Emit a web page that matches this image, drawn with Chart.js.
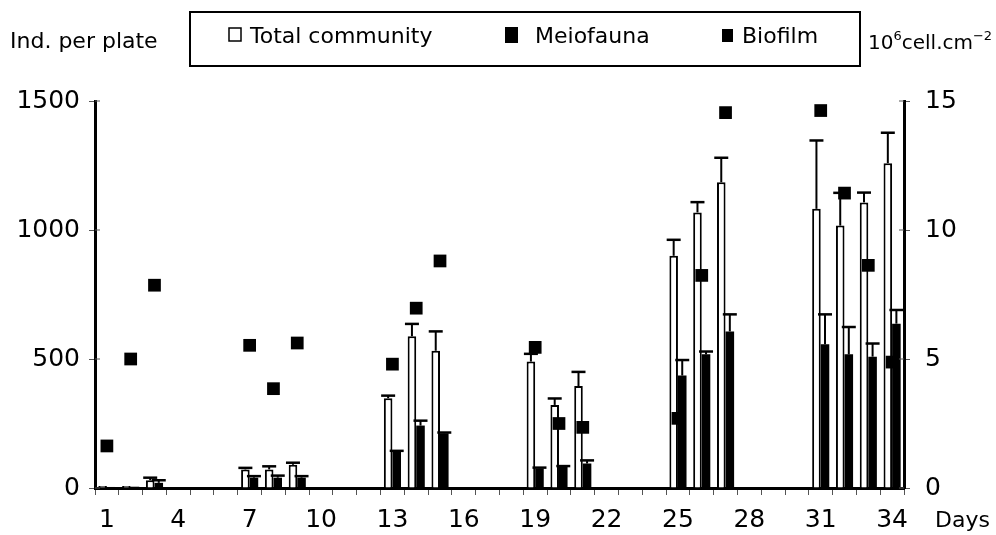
<!DOCTYPE html>
<html>
<head>
<meta charset="utf-8">
<script src="https://cdn.jsdelivr.net/npm/chart.js@4/dist/chart.umd.min.js"></script>
<style>
html,body{margin:0;padding:0;background:#fff;}
#wrap{width:996px;height:535px;}
</style>
</head>
<body>
<div id="wrap"><canvas id="c" width="996" height="535"></canvas></div>
<script>
// ---- data ----
const days = [1,2,3,4,5,6,7,8,9,10,11,12,13,14,15,16,17,18,19,20,21,22,23,24,25,26,27,28,29,30,31,32,33,34];
const xTickLabels = [1,4,7,10,13,16,19,22,25,28,31,34];
const totalCommunity = [8,8,30,null,null,null,72,72,90,null,null,null,348,588,532,null,null,null,490,322,395,null,null,null,900,1068,1185,null,null,null,1082,1017,1107,1259];
const totalErr = [0,0,10,null,null,null,6,12,8,null,null,null,10,48,75,null,null,null,30,25,55,null,null,null,62,40,95,null,null,null,265,127,38,118];
const meiofauna = [4,5,20,null,null,null,40,40,40,null,null,null,141,242,212,null,null,null,76,82,95,null,null,null,436,518,607,null,null,null,557,518,509,637];
const meioErr = [0,0,10,null,null,null,6,8,6,null,null,null,3,19,3,null,null,null,3,3,12,null,null,null,60,11,66,null,null,null,116,106,51,53];
const biofilm = [1.63,5.0,7.86,null,null,null,5.53,3.85,5.62,null,null,null,4.8,6.97,8.8,null,null,null,5.45,2.5,2.35,null,null,null,2.7,8.24,14.55,null,null,null,14.63,11.43,8.63,4.88];
const leftTicks = [0,500,1000,1500];
const rightTicks = [0,5,10,15];

const FONT = '"DejaVu Sans", sans-serif';

const errorBars = {
  id: 'errorBars',
  beforeDatasetDraw(chart, args) {
    if (args.index !== 2) return;
    const ctx = chart.ctx;
    const ys = chart.scales.y;
    const sets = [[0, totalCommunity, totalErr], [1, meiofauna, meioErr]];
    ctx.save();
    ctx.strokeStyle = '#000';
    sets.forEach(([di, vals, errs]) => {
      const meta = chart.getDatasetMeta(di);
      vals.forEach((v, i) => {
        if (v == null || !errs[i]) return;
        const x = meta.data[i].x;
        const y0 = ys.getPixelForValue(v);
        const y1 = ys.getPixelForValue(v + errs[i]);
        ctx.lineWidth = 2;
        ctx.beginPath(); ctx.moveTo(x, y0); ctx.lineTo(x, y1); ctx.stroke();
        ctx.lineWidth = 2.5;
        ctx.beginPath(); ctx.moveTo(x - 7, y1); ctx.lineTo(x + 7, y1); ctx.stroke();
      });
    });
    ctx.restore();
  }
};

const decor = {
  id: 'decor',
  afterDraw(chart) {
    const ctx = chart.ctx;
    const a = chart.chartArea;
    ctx.save();
    // inner tick halves
    ctx.strokeStyle = '#555'; ctx.lineWidth = 1;
    chart.scales.y.ticks.forEach(t => { const y = chart.scales.y.getPixelForValue(t.value); ctx.beginPath(); ctx.moveTo(a.left, y); ctx.lineTo(a.left + 5, y); ctx.stroke(); });
    chart.scales.y1.ticks.forEach(t => { const y = chart.scales.y1.getPixelForValue(t.value); ctx.beginPath(); ctx.moveTo(a.right - 5, y); ctx.lineTo(a.right, y); ctx.stroke(); });
    // legend box
    ctx.strokeStyle = '#000'; ctx.lineWidth = 2;
    ctx.strokeRect(190, 12, 670, 54);
    ctx.fillStyle = '#000';
    ctx.font = '22px ' + FONT;
    ctx.textBaseline = 'alphabetic';
    ctx.textAlign = 'left';
    // total community marker
    ctx.fillStyle = '#fff'; ctx.fillRect(229, 28, 12, 13);
    ctx.lineWidth = 1.5; ctx.strokeRect(229, 28, 12, 13);
    ctx.fillStyle = '#000';
    ctx.fillText('Total community', 250, 43);
    ctx.fillRect(505, 27, 13, 16);
    ctx.fillText('Meiofauna', 535, 43);
    ctx.fillRect(722, 29, 11, 13);
    ctx.fillText('Biofilm', 742, 43);
    // axis titles
    ctx.fillText('Ind. per plate', 10, 48);
    ctx.fillText('Days', 935, 527);
    // right title with superscripts
    let x = 868; const by = 49;
    ctx.font = '20px ' + FONT;
    ctx.fillText('10', x, by); x += ctx.measureText('10').width;
    ctx.font = '13px ' + FONT;
    ctx.fillText('6', x, by - 9); x += ctx.measureText('6').width;
    ctx.font = '20px ' + FONT;
    ctx.fillText('cell.cm', x, by); x += ctx.measureText('cell.cm').width;
    ctx.font = '13px ' + FONT;
    ctx.fillText('\u22122', x, by - 9);
    ctx.restore();
  }
};

new Chart(document.getElementById('c'), {
  data: {
    labels: days,
    datasets: [
      { type: 'bar', label: 'Total community', data: totalCommunity, yAxisID: 'y',
        backgroundColor: '#fff', borderColor: '#000', borderWidth: 2, order: 1,
        categoryPercentage: 0.72, barPercentage: 1.0 },
      { type: 'bar', label: 'Meiofauna', data: meiofauna, yAxisID: 'y',
        backgroundColor: '#000', borderColor: '#000', borderWidth: 0, order: 1,
        categoryPercentage: 0.72, barPercentage: 1.0 },
      { type: 'line', label: 'Biofilm', data: biofilm, yAxisID: 'y1', showLine: false,
        pointStyle: 'rect', pointRadius: 9, pointHoverRadius: 9,
        backgroundColor: '#000', borderColor: '#000', pointBorderWidth: 0, order: 0 }
    ]
  },
  options: {
    responsive: false,
    animation: false,
    devicePixelRatio: 1,
    layout: { padding: { left: 0, right: 0, top: 101, bottom: 0 } },
    plugins: { legend: { display: false }, tooltip: { enabled: false }, title: { display: false } },
    scales: {
      x: {
        type: 'category', offset: true,
        grid: { display: true, drawOnChartArea: false, drawTicks: true, tickLength: 7, color: '#555', offset: true },
        border: { display: true, color: '#000', width: 3 },
        ticks: {
          autoSkip: false, maxRotation: 0, minRotation: 0, padding: 10,
          color: '#000', font: { family: FONT, size: 25 },
          callback: function(v, i) { return xTickLabels.includes(days[i]) ? String(days[i]) : ''; }
        },
        afterFit(s) { s.height = 47; }
      },
      y: {
        position: 'left', min: 0, max: 1500,
        grid: { display: true, drawOnChartArea: false, drawTicks: true, tickLength: 6, color: '#555' },
        border: { display: true, color: '#000', width: 3 },
        afterBuildTicks(s) { s.ticks = leftTicks.map(v => ({ value: v })); },
        ticks: { color: '#000', padding: 9, font: { family: FONT, size: 25 }, callback: v => String(v) },
        afterFit(s) { s.width = 95; }
      },
      y1: {
        position: 'right', min: 0, max: 15,
        grid: { display: true, drawOnChartArea: false, drawTicks: true, tickLength: 6, color: '#555' },
        border: { display: true, color: '#000', width: 3 },
        afterBuildTicks(s) { s.ticks = rightTicks.map(v => ({ value: v })); },
        ticks: { color: '#000', padding: 15, font: { family: FONT, size: 25 }, callback: v => String(v) },
        afterFit(s) { s.width = 92; }
      }
    }
  },
  plugins: [errorBars, decor]
});
</script>
</body>
</html>
